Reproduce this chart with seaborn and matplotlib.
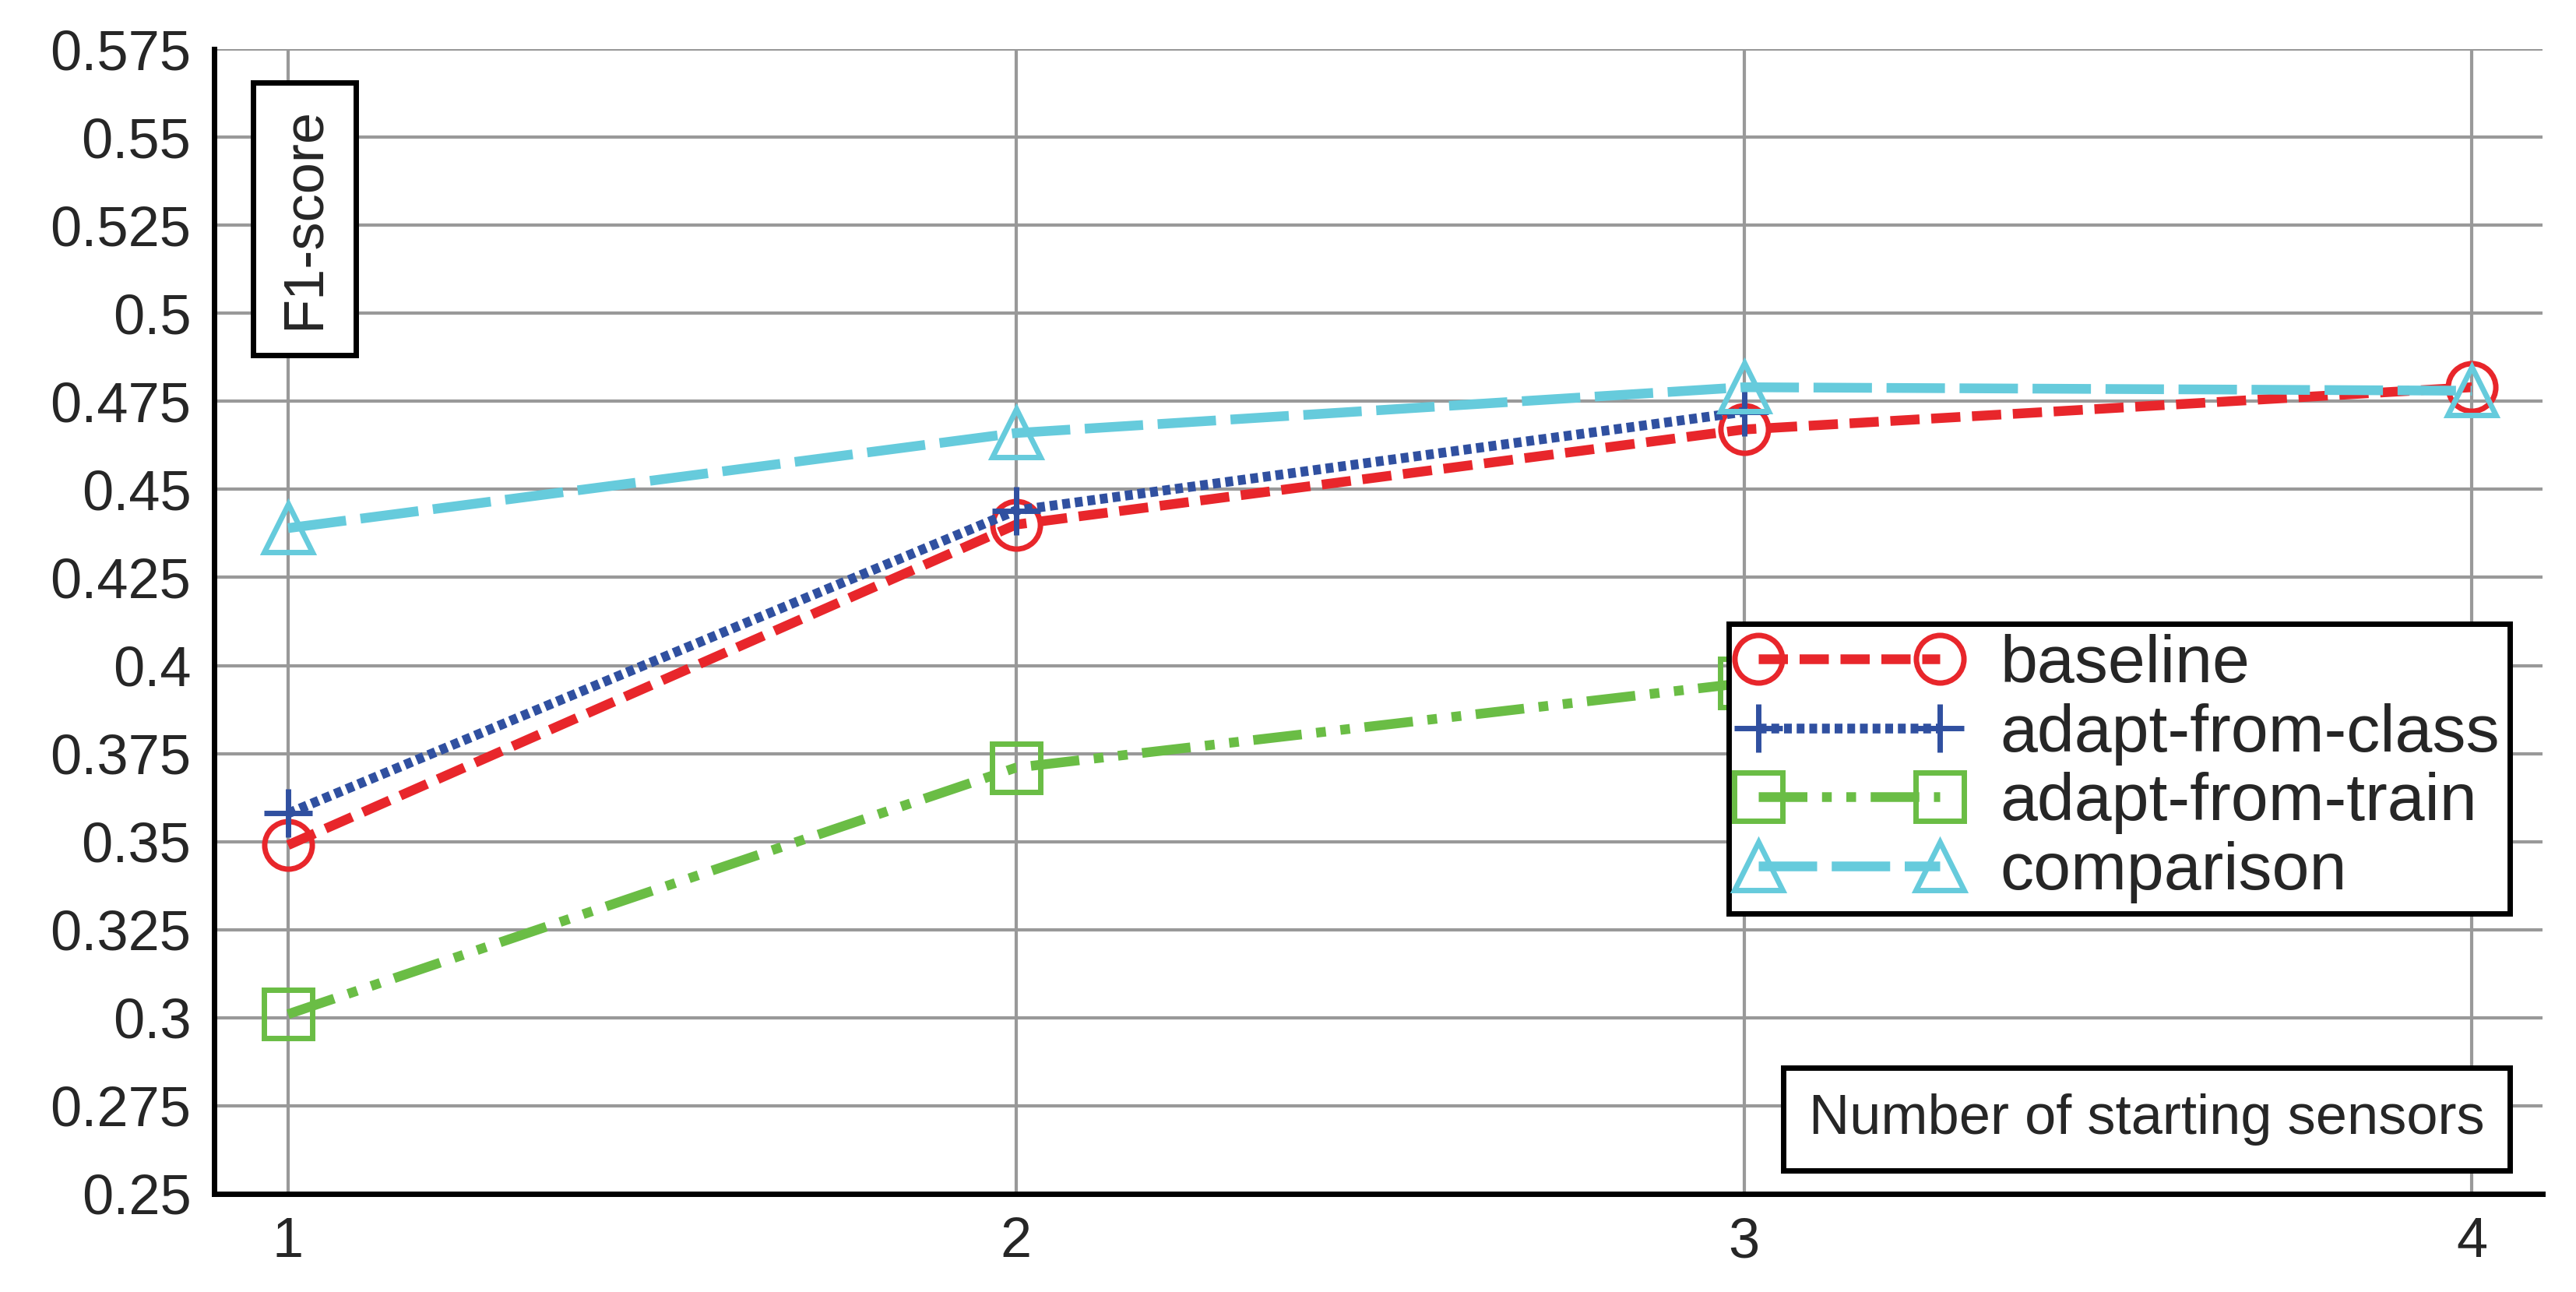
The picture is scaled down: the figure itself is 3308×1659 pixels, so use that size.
import numpy as np
import matplotlib
matplotlib.use("Agg")
import matplotlib.pyplot as plt
import seaborn as sns

# dados
sensores = [1, 2, 3, 4]
baseline = [0.349, 0.440, 0.467, 0.479]
adapt_class = [0.358, 0.444, 0.472]
adapt_train = [0.301, 0.371, 0.395]
comparison = [0.439, 0.466, 0.479, 0.478]
yticks = [0.25, 0.275, 0.3, 0.325, 0.35, 0.375, 0.4, 0.425, 0.45, 0.475, 0.5, 0.525, 0.55, 0.575]
ytick_labels = ['0.25', '0.275', '0.3', '0.325', '0.35', '0.375', '0.4', '0.425', '0.45', '0.475', '0.5', '0.525', '0.55', '0.575']

sns.set_style("white")
plt.rcParams['font.family'] = ['Liberation Sans', 'DejaVu Sans']

fig = plt.figure(figsize=(16.54, 8.295), dpi=200)
ax = fig.add_axes([0.083, 0.076, 0.904, 0.886])

ms = 22
sns.lineplot(x=sensores, y=baseline, ax=ax, color='#e8262b', lw=4.5, linestyle=(0, (3, 1.2)),
             marker='o', markersize=ms, markerfacecolor='none', markeredgecolor='#e8262b',
             markeredgewidth=2.5, label='baseline')
sns.lineplot(x=sensores[:3], y=adapt_class, ax=ax, color='#3050a0', lw=4.5, linestyle=(0, (0.8, 0.5)),
             marker='+', markersize=ms, markeredgecolor='#3050a0', markeredgewidth=2.5,
             label='adapt-from-class')
sns.lineplot(x=sensores[:3], y=adapt_train, ax=ax, color='#6abd45', lw=4.5, linestyle=(0, (5, 1.5, 1, 1.5, 1, 1.5)),
             marker='s', markersize=ms, markerfacecolor='none', markeredgecolor='#6abd45',
             markeredgewidth=2.5, label='adapt-from-train')
sns.lineplot(x=sensores, y=comparison, ax=ax, color='#66cbdc', lw=4.5, linestyle=(0, (6, 1.5)),
             marker='^', markersize=ms, markerfacecolor='none', markeredgecolor='#66cbdc',
             markeredgewidth=2.5, label='comparison')

ax.set_xlim(0.898, 4.097)
ax.set_ylim(0.25, 0.575)
ax.set_xticks(sensores)
ax.set_yticks(yticks)
ax.set_yticklabels(ytick_labels)
ax.tick_params(labelsize=26, direction='inout', length=14, width=2.5)
ax.grid(True, color='#999999', lw=1.5)
for s in ['top', 'right']:
    ax.spines[s].set_visible(False)
for s in ['left', 'bottom']:
    ax.spines[s].set_linewidth(2.5)
    ax.spines[s].set_color('black')

leg = ax.legend(loc='upper left', bbox_to_anchor=(0.636, 0.527), fontsize=31, frameon=True,
                fancybox=False, edgecolor='black', handlelength=3.3, borderpad=0.15,
                labelspacing=0.1, handletextpad=0.6, framealpha=1, numpoints=2)
leg.get_frame().set_linewidth(2.5)

box = dict(boxstyle='square,pad=0.45', facecolor='white', edgecolor='black', linewidth=2.5)
ax.text(0.039, 0.852, 'F1-score', transform=ax.transAxes, rotation=90, fontsize=26,
        ha='center', va='center', bbox=box)
ax.text(0.975, 0.065, 'Number of starting sensors', transform=ax.transAxes, fontsize=26,
        ha='right', va='center', bbox=box)

fig.savefig('out.png', dpi=200)
